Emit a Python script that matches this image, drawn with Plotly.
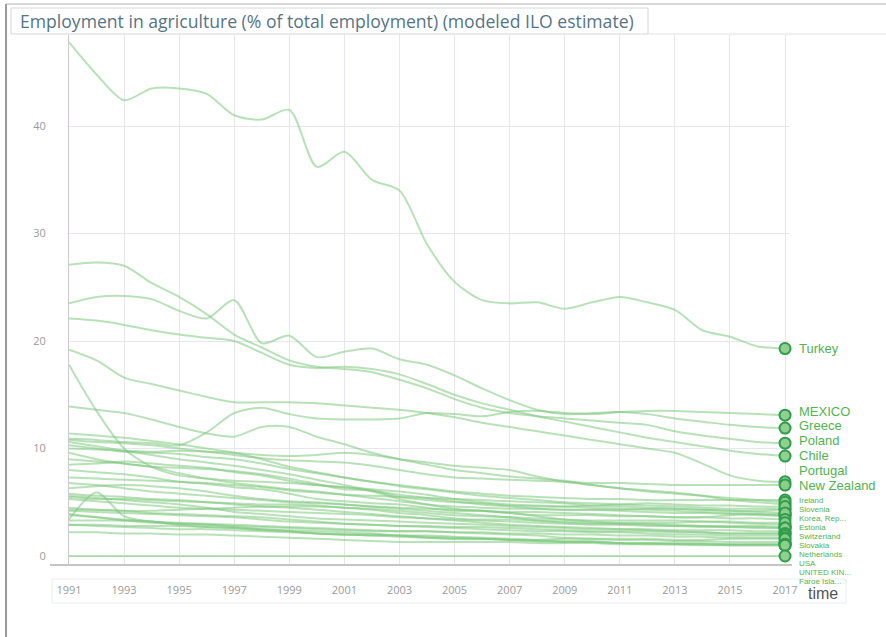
import plotly.graph_objects as go

years = list(range(1991, 2018))

turkey = [47.8,44.8,42.4,43.5,43.5,43.0,41.0,40.6,41.5,36.2,37.6,35.0,34.0,29.0,25.5,23.8,23.5,23.6,23.0,23.6,24.1,23.6,22.9,21.0,20.4,19.5,19.3]
poland = [27.1,27.3,27.0,25.4,24.1,22.5,20.6,19.4,18.2,17.6,17.4,17.1,16.4,15.6,14.6,13.8,13.3,13.0,12.8,12.6,12.4,12.2,11.6,11.2,10.9,10.6,10.5]
greece = [23.5,24.1,24.2,23.9,22.8,22.1,23.8,19.8,20.5,18.5,19.0,19.3,18.3,17.8,16.8,15.6,14.5,13.6,13.2,13.3,13.4,13.2,12.8,12.5,12.2,12.0,11.9]
chile = [22.1,21.9,21.5,21.0,20.6,20.3,20.0,18.9,17.8,17.5,17.6,17.4,16.9,16.0,15.0,14.2,13.6,13.0,12.5,12.0,11.5,11.0,10.6,10.2,9.8,9.5,9.3]
portugal = [19.2,18.2,16.6,16.0,15.4,14.8,14.3,14.3,14.3,14.2,14.0,13.8,13.6,13.3,12.9,12.4,12.0,11.6,11.2,10.8,10.4,10.0,9.6,8.6,7.5,7.0,6.9]
mexico = [10.9,10.8,10.6,10.5,10.3,11.5,13.3,13.8,13.2,12.8,12.7,12.7,12.8,13.3,13.2,13.0,13.4,13.5,13.3,13.2,13.4,13.5,13.5,13.4,13.3,13.2,13.1]
new_zealand = [10.8,10.6,10.5,10.3,10.0,9.7,9.4,9.1,8.9,8.8,8.7,8.4,8.0,7.6,7.3,7.2,7.1,7.0,6.9,6.8,6.8,6.7,6.6,6.6,6.6,6.6,6.6]
estonia = [17.8,13.5,10.0,8.3,7.5,7.2,7.0,6.9,6.8,6.6,6.4,6.2,6.0,5.7,5.3,5.0,4.8,4.7,4.6,4.5,4.4,4.3,4.2,4.1,4.0,3.9,3.9]
korea = [13.9,13.6,13.3,12.7,12.0,11.4,11.1,12.0,12.0,11.1,10.4,9.6,9.0,8.5,8.0,7.7,7.4,7.2,7.0,6.6,6.3,6.1,5.9,5.6,5.2,5.0,4.8]
ireland = [11.4,11.2,11.0,10.7,10.4,10.0,9.6,9.0,8.3,7.8,7.3,6.9,6.6,6.3,6.0,5.8,5.6,5.5,5.4,5.3,5.3,5.2,5.2,5.2,5.2,5.2,5.2]
iceland = [10.3,10.0,9.7,9.6,9.5,9.2,9.0,8.6,8.1,7.7,7.3,6.9,6.5,6.2,5.9,5.6,5.4,5.2,5.0,4.9,4.8,4.7,4.6,4.5,4.4,4.4,4.4]
slovenia = [10.0,9.9,9.8,9.7,9.8,9.7,9.6,9.4,9.3,9.4,9.6,9.4,9.0,8.7,8.4,8.2,8.0,7.4,6.9,6.6,6.3,6.0,5.8,5.6,5.4,5.2,5.0]
spain = [10.6,10.2,9.8,9.4,9.0,8.7,8.4,8.0,7.6,7.1,6.6,6.1,5.7,5.4,5.1,4.8,4.6,4.4,4.3,4.3,4.3,4.4,4.4,4.3,4.2,4.2,4.3]
hungary = [9.6,9.0,8.6,8.3,8.2,8.1,7.9,7.6,7.2,6.7,6.2,6.1,5.5,5.2,5.0,4.9,4.7,4.6,4.6,4.7,4.8,4.9,4.8,4.7,4.7,4.6,4.6]
finland = [9.0,8.8,8.6,8.3,7.7,7.2,6.8,6.5,6.2,6.0,5.7,5.4,5.1,4.8,4.6,4.5,4.4,4.4,4.3,4.3,4.2,4.1,4.0,4.0,3.9,3.8,3.7]
slovakia = [8.5,8.6,8.8,8.6,8.4,8.2,7.8,7.5,7.0,6.6,6.4,6.0,5.3,4.8,4.4,4.2,4.0,3.7,3.4,3.2,3.1,3.1,3.1,3.2,3.1,3.0,2.9]
italy = [8.0,7.8,7.6,7.3,6.9,6.7,6.4,6.2,5.8,5.3,5.1,4.9,4.8,4.5,4.2,4.2,4.0,3.8,3.8,3.8,3.7,3.7,3.6,3.6,3.8,3.9,3.8]
austria = [7.3,7.2,7.1,7.0,6.9,6.8,6.6,6.4,6.1,5.9,5.7,5.6,5.5,5.4,5.3,5.2,5.1,5.0,4.9,4.7,4.6,4.5,4.4,4.3,4.2,4.1,4.0]
japan = [6.8,6.6,6.3,6.0,5.8,5.6,5.4,5.2,5.0,4.9,4.8,4.6,4.5,4.4,4.3,4.2,4.1,4.1,4.0,3.9,3.8,3.7,3.6,3.6,3.5,3.5,3.4]
czech = [6.3,6.5,6.6,6.5,6.3,6.0,5.6,5.3,5.1,5.0,4.8,4.6,4.4,4.2,4.0,3.8,3.6,3.3,3.1,3.0,3.0,3.0,2.9,2.8,2.8,2.8,2.7]
switzerland = [4.3,4.3,4.2,4.2,4.3,4.4,4.5,4.6,4.6,4.6,4.5,4.4,4.2,4.0,3.8,3.7,3.6,3.5,3.4,3.3,3.3,3.3,3.3,3.2,3.2,3.1,3.1]
norway = [5.8,5.6,5.5,5.3,5.2,5.0,4.8,4.6,4.5,4.3,4.1,3.9,3.7,3.5,3.3,3.1,2.9,2.8,2.7,2.6,2.5,2.4,2.3,2.2,2.1,2.1,2.1]
denmark = [5.6,5.4,5.2,5.0,4.8,4.5,4.1,3.9,3.7,3.5,3.4,3.3,3.2,3.1,3.0,2.9,2.8,2.7,2.6,2.5,2.5,2.5,2.4,2.4,2.4,2.3,2.3]
france = [5.3,5.1,4.9,4.7,4.5,4.4,4.3,4.2,4.1,4.0,3.9,3.8,3.6,3.5,3.4,3.3,3.2,3.1,3.0,2.9,2.9,2.8,2.8,2.8,2.7,2.7,2.6]
australia = [5.5,5.3,5.3,5.2,5.1,5.0,4.9,4.8,4.8,4.7,4.5,4.3,4.0,3.8,3.5,3.4,3.4,3.3,3.2,3.1,3.0,2.9,2.8,2.7,2.7,2.6,2.6]
netherlands = [4.2,4.1,4.0,3.9,3.8,3.7,3.6,3.4,3.2,3.1,3.0,2.9,2.8,2.8,2.7,2.7,2.6,2.5,2.4,2.3,2.3,2.3,2.2,2.2,2.1,2.1,2.1]
canada = [4.5,4.3,4.2,4.0,3.9,3.8,3.7,3.6,3.4,3.2,3.0,2.9,2.8,2.7,2.6,2.5,2.4,2.3,2.3,2.2,2.2,2.1,2.0,2.0,1.9,1.9,1.9]
sweden = [3.3,3.3,3.3,3.2,3.1,3.0,2.9,2.8,2.7,2.6,2.5,2.4,2.3,2.3,2.2,2.2,2.1,2.1,2.0,2.0,1.9,1.9,1.8,1.8,1.7,1.7,1.7]
germany = [3.9,3.6,3.3,3.1,3.0,2.9,2.8,2.7,2.6,2.5,2.4,2.3,2.3,2.3,2.2,2.1,2.0,1.9,1.7,1.6,1.5,1.5,1.4,1.4,1.3,1.3,1.3]
usa = [2.9,2.9,2.8,2.8,2.8,2.7,2.6,2.5,2.4,2.3,2.2,2.1,1.9,1.7,1.6,1.6,1.5,1.5,1.6,1.6,1.6,1.6,1.5,1.5,1.6,1.6,1.6]
belgium = [2.9,2.8,2.7,2.6,2.5,2.5,2.4,2.3,2.2,2.1,2.0,1.9,1.9,1.8,1.7,1.6,1.5,1.4,1.3,1.3,1.2,1.2,1.2,1.2,1.1,1.1,1.1]
uk = [2.2,2.2,2.1,2.1,2.0,2.0,1.9,1.8,1.7,1.6,1.5,1.4,1.3,1.3,1.3,1.3,1.3,1.2,1.2,1.2,1.1,1.1,1.1,1.1,1.1,1.1,1.1]
luxembourg = [3.4,5.9,3.7,3.2,3.0,2.9,2.7,2.5,2.3,2.1,2.0,1.9,1.8,1.7,1.6,1.6,1.5,1.4,1.3,1.3,1.2,1.2,1.1,1.1,1.0,1.0,1.0]
israel = [3.8,3.6,3.4,3.2,2.9,2.7,2.6,2.4,2.3,2.1,2.0,2.0,1.9,1.9,1.8,1.7,1.6,1.5,1.4,1.4,1.2,1.1,1.1,1.0,1.0,1.0,1.0]
faroe = [0.0,0.0,0.0,0.0,0.0,0.0,0.0,0.0,0.0,0.0,0.0,0.0,0.0,0.0,0.0,0.0,0.0,0.0,0.0,0.0,0.0,0.0,0.0,0.0,0.0,0.0,0.0]

series = [
    ("Turkey", turkey), ("Poland", poland), ("Greece", greece), ("Chile", chile),
    ("Portugal", portugal), ("Mexico", mexico), ("New Zealand", new_zealand),
    ("Estonia", estonia), ("Korea, Rep.", korea), ("Ireland", ireland),
    ("Iceland", iceland), ("Slovenia", slovenia), ("Spain", spain),
    ("Hungary", hungary), ("Finland", finland), ("Slovak Republic", slovakia),
    ("Italy", italy), ("Austria", austria), ("Japan", japan),
    ("Czech Republic", czech), ("Switzerland", switzerland), ("Norway", norway),
    ("Denmark", denmark), ("France", france), ("Australia", australia),
    ("Netherlands", netherlands), ("Canada", canada), ("Sweden", sweden),
    ("Germany", germany), ("USA", usa), ("Belgium", belgium),
    ("United Kingdom", uk), ("Luxembourg", luxembourg), ("Israel", israel),
    ("Faroe Islands", faroe),
]

label_text = {
    "Turkey": "Turkey", "Mexico": "MEXICO", "Greece": "Greece", "Poland": "Poland",
    "Chile": "Chile", "Portugal": "Portugal", "New Zealand": "New Zealand",
    "Ireland": "Ireland", "Slovenia": "Slovenia", "Korea, Rep.": "Korea, Rep...",
    "Estonia": "Estonia", "Switzerland": "Switzerland", "Slovak Republic": "Slovakia",
    "Netherlands": "Netherlands", "USA": "USA", "United Kingdom": "UNITED KIN...",
    "Faroe Islands": "Faroe Isla...",
}

x_tick_years = [1991, 1993, 1995, 1997, 1999, 2001, 2003, 2005, 2007, 2009, 2011, 2013, 2015, 2017]
y_ticks = [0, 10, 20, 30, 40]
title_text = "Employment in agriculture (% of total employment) (modeled ILO estimate)"

W, H = 886, 637
L, R, T, B = 69, 96, 35, 71
PW, PH = W - L - R, H - T - B
Y0, Y1 = -0.93, 48.47

def px(xp):
    return (xp - L) / PW

def py(yp):
    return (H - B - yp) / PH

def val_to_pix(v):
    return T + (Y1 - v) / (Y1 - Y0) * PH

LINE_COLOR = "rgba(125,200,125,0.55)"
fig = go.Figure()
for name, vals in series:
    fig.add_trace(go.Scatter(
        x=years, y=vals, mode="lines", name=name,
        line=dict(color=LINE_COLOR, width=2, shape="spline", smoothing=0.8),
        hoverinfo="skip", showlegend=False,
    ))

fig.add_trace(go.Scatter(
    x=[years[-1]] * len(series), y=[v[-1] for _, v in series], mode="markers",
    marker=dict(size=11, color="rgba(140,205,140,0.95)", line=dict(color="#2f9e4a", width=2)),
    cliponaxis=False, showlegend=False, hoverinfo="skip",
))

# ---- label placement (pixel space, then converted to paper coords) ----
LABEL_COLOR = "#52b352"
ends = {n: v[-1] for n, v in series if n in label_text}
big = sorted([n for n in ends if ends[n] > 6], key=lambda n: ends[n])      # bottom -> top
small = sorted([n for n in ends if ends[n] <= 6], key=lambda n: -ends[n])  # top -> bottom
pos = {}
prev = None
for n in big:
    p = val_to_pix(ends[n])
    if prev is not None:
        p = min(p, prev - 14.8)
    pos[n] = p
    prev = p
bottom_big = pos[big[0]]
prev = None
for n in small:
    p = val_to_pix(ends[n])
    p = max(p, (bottom_big + 12.0) if prev is None else prev + 9.0)
    pos[n] = p
    prev = p

label_x = px(785 + 13)
annotations = []
for n, p in pos.items():
    is_big = n in big
    annotations.append(dict(
        x=label_x, y=py(p), xref="paper", yref="paper", text=label_text[n],
        xanchor="left", yanchor="middle", showarrow=False,
        font=dict(family="Liberation Sans, Arial, sans-serif", size=13 if is_big else 8,
                  color=LABEL_COLOR),
        borderpad=0,
    ))

annotations.append(dict(
    x=px(18), y=py(21), xref="paper", yref="paper", text=title_text,
    xanchor="left", yanchor="middle", showarrow=False,
    font=dict(family="Open Sans, sans-serif", size=17.6, color="#557485"),
))
annotations.append(dict(
    x=px(806), y=py(593), xref="paper", yref="paper", text="time",
    xanchor="left", yanchor="middle", showarrow=False,
    font=dict(family="Liberation Sans, Arial, sans-serif", size=16, color="#555555"),
))

shapes = [
    dict(type="line", xref="paper", yref="paper", x0=px(6), x1=px(6), y0=py(4), y1=py(H), line=dict(color="#9a9a9a", width=2)),
    dict(type="line", xref="paper", yref="paper", x0=px(6), x1=px(W), y0=py(4), y1=py(4), line=dict(color="#b0b0b0", width=1)),
    dict(type="rect", xref="paper", yref="paper", x0=px(11), x1=px(648), y0=py(8), y1=py(34), line=dict(color="#d5d5d5", width=1)),
    dict(type="line", xref="paper", yref="paper", x0=px(648), x1=px(W), y0=py(34), y1=py(34), line=dict(color="#e2e2e2", width=1)),
    dict(type="line", xref="paper", yref="paper", x0=px(50), x1=px(792), y0=py(565), y1=py(565), line=dict(color="#c4c4c4", width=2)),
    dict(type="rect", xref="paper", yref="paper", x0=px(52), x1=px(846), y0=py(579), y1=py(603), line=dict(color="#ececec", width=1)),
]

fig.update_layout(
    width=W, height=H,
    margin=dict(l=L, r=R, t=T, b=B, autoexpand=False),
    paper_bgcolor="white", plot_bgcolor="white",
    annotations=annotations, shapes=shapes,
    showlegend=False,
    font=dict(family="Open Sans, sans-serif"),
)
fig.update_xaxes(
    range=[1991, 2017.18], tickvals=x_tick_years, ticktext=[str(y) for y in x_tick_years],
    showgrid=True, gridcolor="#e6e6ec", gridwidth=1, zeroline=False, automargin=False,
    showline=False, ticks="", ticklabelstandoff=16,
    tickfont=dict(size=11, color="#9a9a9a", family="Open Sans, sans-serif"),
)
fig.update_yaxes(
    range=[Y0, Y1], tickvals=y_ticks, ticktext=[str(v) for v in y_ticks],
    showgrid=True, gridcolor="#e6e6ec", gridwidth=1, zeroline=False, automargin=False,
    showline=True, linecolor="#d0c8d0", linewidth=1, ticks="", ticklabelstandoff=20,
    tickfont=dict(size=11, color="#9a9a9a", family="Open Sans, sans-serif"),
)

fig.write_html(
    "out.html",
    config={"displayModeBar": False},
    post_script="document.body.style.margin='0';document.body.style.overflow='hidden';",
)
